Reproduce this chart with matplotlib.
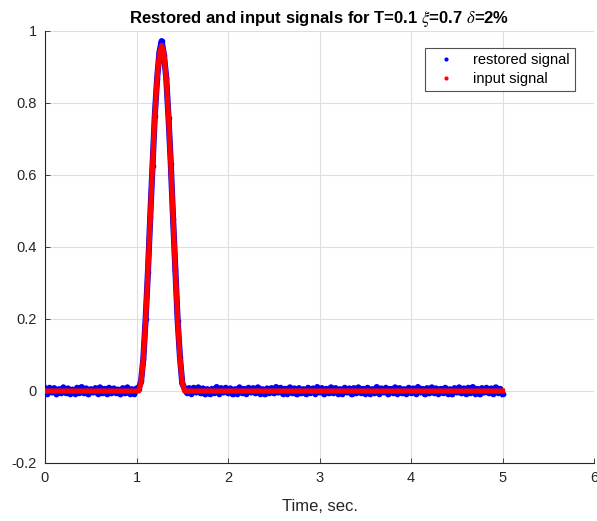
import numpy as np
import matplotlib
matplotlib.use("Agg")
import matplotlib.pyplot as plt
from matplotlib.lines import Line2D

plt.rcParams['font.family'] = ['Liberation Sans', 'DejaVu Sans']
plt.rcParams['mathtext.fontset'] = 'stix'

# sampling grid (s)
time = np.arange(0, 5.0 + 1e-9, 0.025)

# input pulse samples, t = 1.025 ... 1.525
pulse_start = 1.025
input_pulse = [0.000, 0.024, 0.092, 0.198, 0.332, 0.480, 0.628, 0.762, 0.868, 0.936,
               0.960, 0.936, 0.868, 0.762, 0.628, 0.480, 0.332, 0.198, 0.092, 0.024,
               0.000]

# restored signal, t = 0 ... 1.0
restored_before = [0.006, -0.007, 0.009, -0.004, 0.008, -0.009, 0.005, -0.006, 0.010, -0.005,
                   0.007, -0.008, 0.004, -0.007, 0.009, -0.005, 0.011, -0.006, 0.007, -0.009,
                   0.005, -0.004, 0.008, -0.007, 0.010, -0.005, 0.006, -0.008, 0.009, -0.006,
                   0.007, -0.005, 0.004, -0.009, 0.008, -0.006, 0.010, -0.007, 0.005, -0.008,
                   0.007]
# restored signal, t = 1.025 ... 1.525
restored_pulse = [0.006, 0.027, 0.090, 0.201, 0.330, 0.483, 0.626, 0.765, 0.866, 0.940,
                  0.972, 0.933, 0.870, 0.759, 0.631, 0.477, 0.335, 0.195, 0.094, 0.021,
                  0.007]
# restored signal, t = 1.55 ... 5.0
restored_after = [-0.005, 0.008, -0.007, 0.009, -0.004, 0.010, -0.006, 0.007, -0.009, 0.005,
                  -0.008, 0.006, -0.005, 0.011, -0.007, 0.008, -0.004, 0.009, -0.006, 0.007,
                  -0.009, 0.005, -0.007, 0.010, -0.005, 0.006, -0.008, 0.009, -0.004, 0.008,
                  -0.006, 0.010, -0.007, 0.005, -0.009, 0.007, -0.005, 0.008, -0.006, 0.011,
                  -0.004, 0.009, -0.008, 0.006, -0.007, 0.010, -0.005, 0.007, -0.009, 0.008,
                  -0.006, 0.005, -0.008, 0.009, -0.005, 0.007, -0.007, 0.011, -0.004, 0.008,
                  -0.009, 0.006, -0.006, 0.010, -0.005, 0.008, -0.007, 0.005, -0.008, 0.009,
                  -0.004, 0.007, -0.009, 0.008, -0.006, 0.010, -0.005, 0.006, -0.007, 0.009,
                  -0.008, 0.005, -0.006, 0.011, -0.007, 0.007, -0.004, 0.009, -0.009, 0.006,
                  -0.005, 0.010, -0.007, 0.008, -0.006, 0.005, -0.008, 0.009, -0.005, 0.007,
                  -0.007, 0.011, -0.004, 0.006, -0.009, 0.008, -0.006, 0.010, -0.005, 0.007,
                  -0.008, 0.006, -0.005, 0.009, -0.007, 0.005, -0.009, 0.008, -0.004, 0.010,
                  -0.006, 0.007, -0.008, 0.009, -0.005, 0.011, -0.007, 0.006, -0.009, 0.008,
                  -0.004, 0.009, -0.006, 0.007, -0.008, 0.010, -0.005, 0.006, -0.007]

x_ticks = [0, 1, 2, 3, 4, 5, 6]
y_ticks = [-0.2, 0, 0.2, 0.4, 0.6, 0.8, 1]
y_tick_labels = ['-0.2', '0', '0.2', '0.4', '0.6', '0.8', '1']

input_signal = np.zeros_like(time)
i0 = int(np.searchsorted(time, pulse_start - 1e-9))
input_signal[i0:i0 + len(input_pulse)] = input_pulse
restored_signal = np.array(restored_before + restored_pulse + restored_after)

fig = plt.figure(figsize=(5.97, 5.21), dpi=100)
ax = fig.add_axes([45 / 597, 58 / 521, 549 / 597, 432 / 521])

ax.plot(time, restored_signal, color='#0000ff', linestyle='-', linewidth=4.4,
        marker='.', markersize=6, solid_joinstyle='round', zorder=3)
ax.plot(time, input_signal, color='#ff0000', linestyle='-', linewidth=3.7,
        zorder=4)

ax.set_xlim(0, 6)
ax.set_ylim(-0.2, 1)
ax.set_xticks(x_ticks)
ax.set_yticks(y_ticks)
ax.set_yticklabels(y_tick_labels)
ax.grid(True, color='#dedede', linewidth=0.8)
ax.set_axisbelow(True)
for side in ('top', 'right'):
    ax.spines[side].set_visible(False)
for side in ('left', 'bottom'):
    ax.spines[side].set_color('#262626')
    ax.spines[side].set_linewidth(0.8)
ax.tick_params(direction='in', length=3.5, width=0.6, colors='#262626',
               labelsize=10.5, pad=6)

ax.set_xlabel('Time, sec.', fontsize=12, color='#262626', labelpad=10)
ax.set_title(r'Restored and input signals for T=0.1 $\xi$=0.7 $\delta$=2%',
             fontsize=12, fontweight='bold', color='#000000', pad=6)

handles = [Line2D([], [], color='#0000ff', linestyle='none', marker='.', markersize=4),
           Line2D([], [], color='#ff0000', linestyle='none', marker='.', markersize=4)]
leg = ax.legend(handles, ['restored signal', 'input signal'], loc='upper right',
                bbox_to_anchor=(0.979, 0.977), fontsize=10.5, frameon=True,
                fancybox=False, edgecolor='#262626', handlelength=2.2,
                borderpad=0.35, labelspacing=0.3, handletextpad=0.8)
leg.get_frame().set_linewidth(0.8)

fig.savefig('out.png', dpi=100)
